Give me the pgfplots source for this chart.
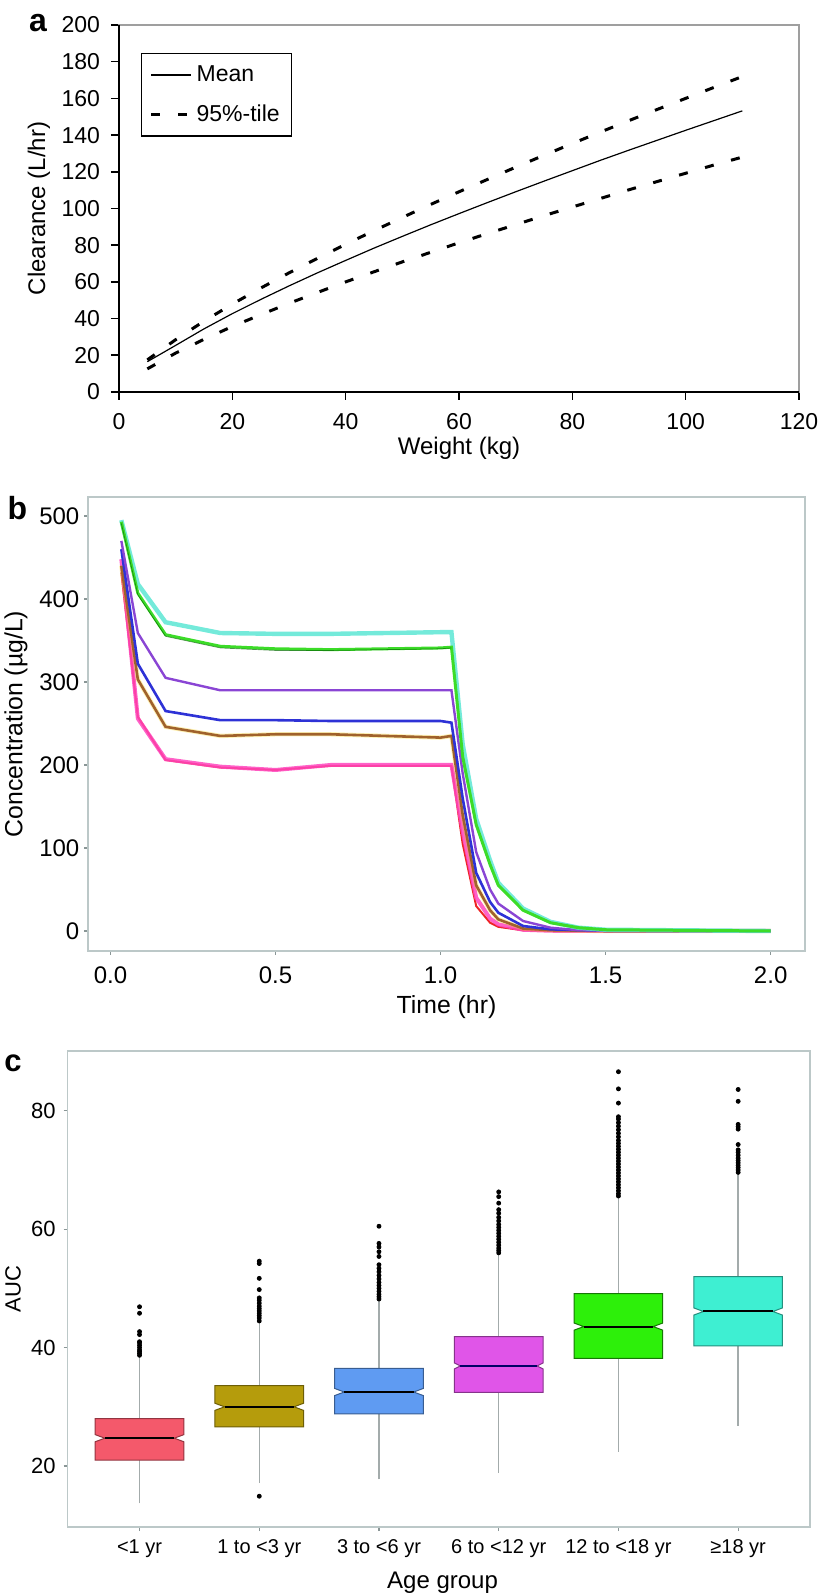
\documentclass[border=0pt]{standalone}
\usepackage{pgfplots}
\pgfplotsset{compat=1.18}
\usepackage{fontspec}
\setmainfont{Liberation Sans}
\definecolor{frameb}{HTML}{BCC8C8}
\definecolor{tickb}{HTML}{8A9696}
\definecolor{whisk}{HTML}{A3ABAB}
\definecolor{cCyan}{HTML}{5CE6D4}
\definecolor{cGreen}{HTML}{3CDC28}
\definecolor{cPurple}{HTML}{8A45D4}
\definecolor{cBlue}{HTML}{2E32D6}
\definecolor{cBrown}{HTML}{A0622C}
\definecolor{cPink}{HTML}{FF45BE}
\definecolor{cRed}{HTML}{EE2424}
\definecolor{bRed}{HTML}{F4596B}
\definecolor{bOlive}{HTML}{B59C0C}
\definecolor{bBlue}{HTML}{5F9BF2}
\definecolor{bMag}{HTML}{E055E8}
\definecolor{bGreen}{HTML}{2DF00A}
\definecolor{bCyan}{HTML}{3EEFD2}
\newcommand{\fs}[1]{\fontsize{#1}{#1}\selectfont}
\begin{document}
\begin{tikzpicture}
\path[use as bounding box] (0pt,0pt) rectangle (409.5pt,798pt);
% ---------------- panel a ----------------
\begin{axis}[
  at={(59.5pt,602pt)}, anchor=south west, scale only axis,
  width=340pt, height=183.5pt,
  xmin=0, xmax=120, ymin=0, ymax=200,
  xtick={0,20,...,120}, ytick={0,20,...,200},
  /pgf/number format/assume math mode=true,
  tick align=outside, xtick pos=left, ytick pos=left,
  major tick length=4pt,
  tick style={black, line width=0.8pt},
  axis line style={gray!75, line width=0.6pt},
  ticklabel style={font=\fs{11.5}, inner sep=0pt},
  xticklabel style={anchor=center, yshift=-11pt},
  yticklabel style={anchor=east, xshift=-5.35pt},
  xlabel={Weight (kg)}, ylabel={Clearance (L/hr)},
  label style={font=\fs{12}},
  xlabel style={at={(axis description cs:0.5,-0.1526)}, anchor=center},
  ylabel style={at={(axis description cs:-0.1176,0.5)}, anchor=center},
  clip mode=individual,
  legend cell align=left,
  legend image code/.code={\draw[#1] (0pt,0pt) -- (20pt,0pt);},
  legend style={at={(axis description cs:0,1)}, anchor=north west,
    xshift=11pt, yshift=-14pt, draw=black, line width=0.6pt,
    font=\fs{11.5}, inner xsep=4pt, inner ysep=4pt, row sep=6pt},
]
\addplot[black, line width=0.6pt] coordinates {
(5,16.5) (10,25.4) (15,34.4) (20,42.7) (25,50.4) (30,57.8) (35,64.9) (40,71.7)
(45,78.4) (50,84.8) (55,91.1) (60,97.2) (65,103.2) (70,109.1) (75,114.9) (80,120.6)
(85,126.3) (90,131.8) (95,137.2) (100,142.6) (105,147.9) (110,153.2)};
\addlegendentry{Mean}
\addplot[black, line width=1.5pt, dash pattern=on 4.5pt off 9pt] coordinates {
(5,17.5) (10,28.5) (15,38.6) (20,47.9) (25,56.6) (30,64.9) (35,72.8) (40,80.5)
(45,87.9) (50,95.1) (55,102.2) (60,109.1) (65,115.8) (70,122.5) (75,129.0) (80,135.4)
(85,141.7) (90,147.9) (95,154.0) (100,160.0) (105,166.0) (110,171.9)};
\addlegendentry{95\%-tile}
\addplot[black, line width=1.5pt, dash pattern=on 4.5pt off 9pt, forget plot] coordinates {
(5,12.6) (10,21.2) (15,28.7) (20,35.7) (25,42.1) (30,48.3) (35,54.2) (40,60.0)
(45,65.5) (50,70.9) (55,76.1) (60,81.3) (65,86.3) (70,91.2) (75,96.1) (80,100.8)
(85,105.5) (90,110.2) (95,114.7) (100,119.2) (105,123.7) (110,128.0)};
\draw[black, line width=0.9pt] (rel axis cs:0,1) -- (rel axis cs:0,0) -- (rel axis cs:1,0);
\end{axis}
\node[anchor=base, font=\bfseries\fs{16}] at (19pt,782pt) {a};
% ---------------- panel b ----------------
\begin{axis}[
  at={(44pt,322.5pt)}, anchor=south west, scale only axis,
  width=358.5pt, height=227pt,
  xmin=-0.068, xmax=2.104, ymin=-24.1, ymax=522.9,
  xtick={0,0.5,1,1.5,2}, xticklabels={0.0,0.5,1.0,1.5,2.0},
  ytick={0,100,...,500},
  /pgf/number format/assume math mode=true,
  tick align=outside, xtick pos=left, ytick pos=left,
  major tick length=2pt,
  tick style={tickb, line width=0.6pt},
  axis line style={frameb, line width=0.7pt},
  ticklabel style={font=\fs{12}, inner sep=0pt},
  xticklabel style={anchor=center, yshift=-10pt},
  yticklabel style={anchor=east, xshift=-2.15pt},
  xlabel={Time (hr)}, ylabel={Concentration (µg/L)},
  label style={font=\fs{12.4}},
  xlabel style={at={(axis description cs:0.5,-0.1233)}, anchor=center},
  ylabel style={at={(axis description cs:-0.1004,0.5)}, anchor=center},
]
\addplot[cRed, line width=1pt] coordinates {
(0.033,432) (0.083,258) (0.167,206) (0.333,197) (0.5,194) (0.667,199) (0.833,199) (1.0,199)
(1.033,199) (1.067,105) (1.108,30) (1.15,10) (1.175,5) (1.25,0.8) (1.333,0) (1.5,0) (2.0,0)};
\addplot[cPink, line width=2pt, opacity=0.85] coordinates {
(0.033,448) (0.083,256) (0.167,207) (0.333,198) (0.5,194) (0.667,200) (0.833,200) (1.0,200)
(1.033,200) (1.067,120) (1.108,40) (1.15,15) (1.175,8) (1.25,1.5) (1.333,0.3) (1.5,0) (2.0,0)};
\addplot[yellow!70!orange, line width=2.2pt, opacity=0.3] coordinates {
(0.033,440) (0.083,303) (0.167,246) (0.333,235) (0.5,237) (0.667,237) (0.833,235) (1.0,233)
(1.033,235) (1.067,140) (1.108,55) (1.15,25) (1.175,14) (1.25,3) (1.333,1) (1.5,0) (2.0,0)};
\addplot[cBrown, line width=1.3pt] coordinates {
(0.033,440) (0.083,303) (0.167,246) (0.333,235) (0.5,237) (0.667,237) (0.833,235) (1.0,233)
(1.033,235) (1.067,140) (1.108,55) (1.15,25) (1.175,14) (1.25,3) (1.333,1) (1.5,0) (2.0,0)};
\addplot[cBlue, line width=1.3pt] coordinates {
(0.033,460) (0.083,322) (0.167,265) (0.333,254) (0.5,254) (0.667,253) (0.833,253) (1.0,253)
(1.033,251) (1.067,160) (1.108,70) (1.15,35) (1.175,22) (1.25,6) (1.333,2) (1.5,0.3) (2.0,0)};
\addplot[cPurple, line width=1.2pt] coordinates {
(0.033,470) (0.083,359) (0.167,305) (0.333,290) (0.5,290) (0.667,290) (0.833,290) (1.0,290)
(1.033,290) (1.067,190) (1.108,95) (1.15,50) (1.175,33) (1.25,12) (1.333,4) (1.417,1) (1.5,0.3) (2.0,0)};
\addplot[cCyan, line width=2.2pt, opacity=0.85] coordinates {
(0.033,495) (0.083,418) (0.167,372) (0.333,359) (0.5,358) (0.667,358) (0.833,359) (1.0,360)
(1.033,360) (1.067,225) (1.108,135) (1.15,85) (1.175,58) (1.25,27) (1.333,11) (1.417,4) (1.5,1.5) (2.0,0)};
\addplot[cGreen, line width=1.5pt] coordinates {
(0.033,493) (0.083,407) (0.167,357) (0.333,343) (0.5,340) (0.667,339) (0.833,340) (1.0,341)
(1.033,342) (1.067,210) (1.108,128) (1.15,80) (1.175,55) (1.25,25) (1.333,10) (1.417,4) (1.5,1.5) (2.0,0)};
\addplot[green!35!black, line width=0.35pt, opacity=0.6] coordinates {
(0.033,491) (0.083,405) (0.167,355) (0.333,341) (0.5,338) (0.667,338) (0.833,339) (1.0,340)
(1.033,341)};
\end{axis}
\node[anchor=base, font=\bfseries\fs{16}] at (8.75pt,538pt) {b};
% ---------------- panel c ----------------
\begin{axis}[
  at={(33.85pt,34.5pt)}, anchor=south west, scale only axis,
  width=371.15pt, height=238pt,
  xmin=0.4, xmax=6.6, ymin=9.7, ymax=90.1,
  xtick={1,2,3,4,5,6},
  xticklabels={<1 yr, 1 to <3 yr, 3 to <6 yr, 6 to <12 yr, 12 to <18 yr, ≥18 yr},
  ytick={20,40,60,80},
  /pgf/number format/assume math mode=true,
  tick align=outside, xtick pos=left, ytick pos=left,
  major tick length=2pt,
  tick style={tickb, line width=0.6pt},
  axis line style={frameb, line width=0.7pt},
  yticklabel style={font=\fs{11}, inner sep=0pt, anchor=east, xshift=-3.85pt},
  xticklabel style={font=\fs{10}, inner sep=0pt, anchor=center, yshift=-9pt},
  xlabel={Age group}, ylabel={AUC},
  xlabel style={font=\fs{12}, at={(axis description cs:0.505,-0.1176)}, anchor=center},
  ylabel style={font=\fs{11}, at={(axis description cs:-0.0737,0.5)}, anchor=center},
]
% whiskers
\addplot[whisk, line width=0.7pt] coordinates {(1,13.7) (1,21.0)};
\addplot[whisk, line width=0.7pt] coordinates {(1,28.0) (1,38.4)};
\addplot[whisk, line width=0.7pt] coordinates {(2,17.1) (2,26.6)};
\addplot[whisk, line width=0.7pt] coordinates {(2,33.6) (2,44.3)};
\addplot[whisk, line width=0.7pt] coordinates {(3,17.75) (3,28.8)};
\addplot[whisk, line width=0.7pt] coordinates {(3,36.5) (3,48.0)};
\addplot[whisk, line width=0.7pt] coordinates {(4,18.8) (4,32.45)};
\addplot[whisk, line width=0.7pt] coordinates {(4,41.85) (4,55.8)};
\addplot[whisk, line width=0.7pt] coordinates {(5,22.4) (5,38.2)};
\addplot[whisk, line width=0.7pt] coordinates {(5,49.1) (5,65.4)};
\addplot[whisk, line width=0.7pt] coordinates {(6,26.8) (6,40.3)};
\addplot[whisk, line width=0.7pt] coordinates {(6,52.0) (6,69.5)};
% boxes
\addplot[fill=bRed, draw=bRed!60!black, line width=0.5pt] coordinates {
(0.63,21.0) (1.37,21.0) (1.37,24.1) (1.29,24.7) (1.37,25.3) (1.37,28.0) (0.63,28.0) (0.63,25.3) (0.71,24.7) (0.63,24.1)} -- cycle;
\addplot[fill=bOlive, draw=bOlive!60!black, line width=0.5pt] coordinates {
(1.63,26.6) (2.37,26.6) (2.37,29.4) (2.29,30.0) (2.37,30.6) (2.37,33.6) (1.63,33.6) (1.63,30.6) (1.71,30.0) (1.63,29.4)} -- cycle;
\addplot[fill=bBlue, draw=bBlue!60!black, line width=0.5pt] coordinates {
(2.63,28.8) (3.37,28.8) (3.37,31.9) (3.29,32.5) (3.37,33.1) (3.37,36.5) (2.63,36.5) (2.63,33.1) (2.71,32.5) (2.63,31.9)} -- cycle;
\addplot[fill=bMag, draw=bMag!60!black, line width=0.5pt] coordinates {
(3.63,32.45) (4.37,32.45) (4.37,36.4) (4.32,36.9) (4.37,37.4) (4.37,41.85) (3.63,41.85) (3.63,37.4) (3.68,36.9) (3.63,36.4)} -- cycle;
\addplot[fill=bGreen, draw=bGreen!50!black, line width=0.5pt] coordinates {
(4.63,38.2) (5.37,38.2) (5.37,42.95) (5.29,43.55) (5.37,44.15) (5.37,49.1) (4.63,49.1) (4.63,44.15) (4.71,43.55) (4.63,42.95)} -- cycle;
\addplot[fill=bCyan, draw=bCyan!60!black, line width=0.5pt] coordinates {
(5.63,40.3) (6.37,40.3) (6.37,45.5) (6.29,46.1) (6.37,46.7) (6.37,52.0) (5.63,52.0) (5.63,46.7) (5.71,46.1) (5.63,45.5)} -- cycle;
% medians
\addplot[black, line width=1pt] coordinates {(0.71,24.7) (1.29,24.7)};
\addplot[black, line width=1pt] coordinates {(1.71,30.0) (2.29,30.0)};
\addplot[black, line width=1pt] coordinates {(2.71,32.5) (3.29,32.5)};
\addplot[black!60!blue, line width=1pt] coordinates {(3.68,36.9) (4.32,36.9)};
\addplot[black, line width=1pt] coordinates {(4.71,43.55) (5.29,43.55)};
\addplot[black, line width=1pt] coordinates {(5.71,46.1) (6.29,46.1)};
% outliers
\addplot[only marks, mark=*, mark size=1pt, black] coordinates {
(1,38.7) (1,39.0) (1,39.3) (1,39.6) (1,40.0) (1,40.4) (1,40.8) (1,41.0) (1,42.2) (1,42.7) (1,45.8) (1,46.9)
(2,14.9) (2,44.5) (2,45.0) (2,45.4) (2,45.8) (2,46.2) (2,46.6) (2,47.0) (2,47.5) (2,48.0) (2,48.4) (2,49.8) (2,51.7) (2,54.2) (2,54.6)
(3,48.2) (3,48.6) (3,49.0) (3,49.5) (3,50.0) (3,50.5) (3,51.0) (3,51.6) (3,52.2) (3,52.8) (3,53.4) (3,54.0) (3,55.4) (3,56.2) (3,57.0) (3,57.6) (3,60.5)
(4,56.0) (4,56.4) (4,56.8) (4,57.3) (4,57.8) (4,58.3) (4,58.8) (4,59.3) (4,59.8) (4,60.3) (4,60.8) (4,61.4) (4,62.0) (4,62.7) (4,63.3) (4,64.4) (4,65.5) (4,66.3)
(5,65.6) (5,66.0) (5,66.5) (5,67.0) (5,67.5) (5,68.0) (5,68.5) (5,69.0) (5,69.5) (5,70.0) (5,70.5) (5,71.0) (5,71.5) (5,72.0) (5,72.5) (5,73.0) (5,73.5) (5,74.0) (5,74.5) (5,75.0) (5,75.6) (5,76.2) (5,76.8) (5,77.4) (5,78.0) (5,78.6) (5,79.0) (5,81.3) (5,83.7) (5,86.6)
(6,69.6) (6,70.0) (6,70.4) (6,70.8) (6,71.2) (6,71.6) (6,72.0) (6,72.5) (6,73.0) (6,73.4) (6,74.3) (6,76.9) (6,77.3) (6,77.7) (6,81.6) (6,83.6)};
\end{axis}
\node[anchor=base, font=\bfseries\fs{15.5}] at (6.5pt,262.2pt) {c};
\end{tikzpicture}
\end{document}
